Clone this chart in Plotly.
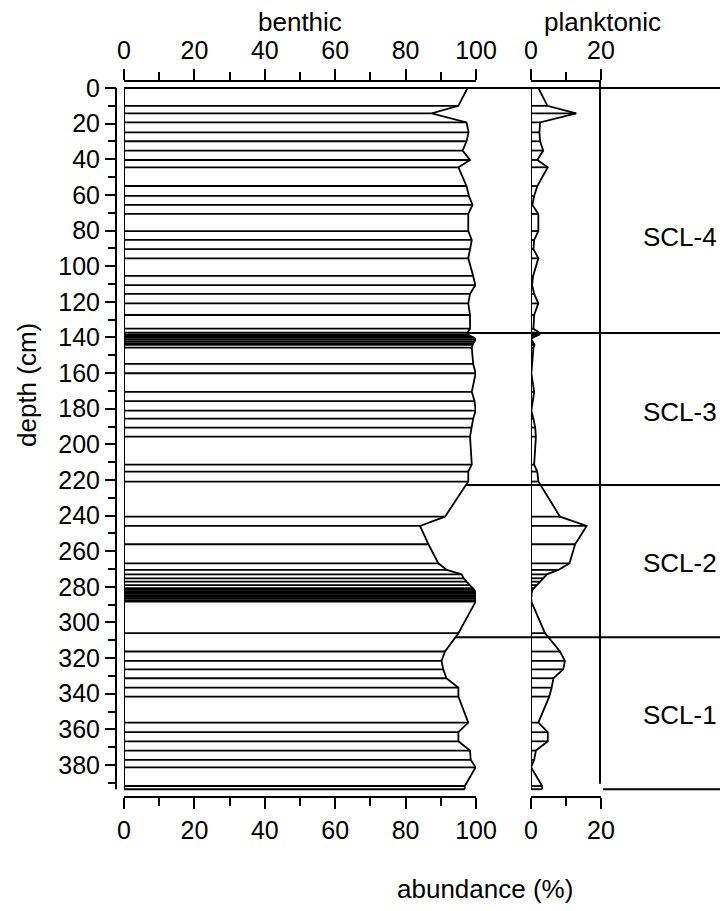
import plotly.graph_objects as go

# sample depths (cm) and relative abundances (%)
depth = [0, 10, 14.2, 19.3, 24.9, 29.9, 35.1, 40.4, 44.5, 55, 60.6, 65.6, 70.7,
         80.3, 85.3, 90.4, 95.6, 105.5, 110.6, 115.6, 120.9, 127.4, 135.1,
         137.3, 138.3, 139.2, 140.2, 141.2, 142.2, 143.2, 144.2, 145.7,
         154.9, 160.1, 170.6, 175.8, 181.1, 185.6, 190.6, 195.7, 211.4, 215.3,
         220.9, 240.6, 245.8, 256.1, 266.8, 270.5, 273, 275.2, 277.1, 279,
         280.8, 281.6, 282.4, 283.2, 284, 284.8, 285.6, 286.4, 287.4, 288.3,
         306, 316.3, 321.6, 326.3, 331.3, 336.6, 341.6, 356.2, 361.6, 366.7,
         371.9, 377.1, 381.3, 391.8, 393.6]

benthic = [97.6, 95, 87.4, 97.3, 97.9, 97.3, 96.2, 98.3, 95, 97.3, 98, 99, 97.8,
           97.8, 98.8, 98.3, 97.8, 99.2, 99.8, 98.3, 97.8, 98.3, 98.3,
           97.6, 97.6, 98.5, 99.5, 99.9, 99.6, 99.2, 99, 98.8,
           99.2, 99.9, 98.8, 99.6, 99.9, 99.2, 98.8, 98.3, 98.8, 97.8,
           97.8, 91.2, 84.1, 86.5, 89.3, 91.7, 95.9, 96.5, 97.3, 98.3,
           99.2, 99.5, 99.7, 99.8, 99.9, 99.8, 99.9, 100, 99.9, 99.9,
           95, 91.2, 90.2, 90.7, 91.6, 95, 95, 97.8, 95, 95,
           98.3, 98.5, 99.9, 96.8, 96.8]

planktonic = [2.1, 4.7, 12.9, 2.6, 2.4, 2.6, 3.5, 1.8, 4.8, 1.8, 0.9, 0.4, 2.1,
              2.1, 0.9, 0.7, 2.1, 0.6, 0.3, 0.9, 2.1, 0.9, 0.7,
              2.4, 2.4, 1.5, 0.5, 0.1, 0.4, 0.8, 1.0, 0.7,
              0.4, 0.1, 0.9, 0.4, 0.1, 0.7, 1.2, 1.4, 0.9, 1.8,
              2.1, 8.3, 15.9, 12.6, 11, 7.8, 4.5, 3.5, 2.5, 1.7,
              0.8, 0.5, 0.3, 0.2, 0.1, 0.2, 0.1, 0, 0.1, 0.1,
              4.0, 8.3, 9.7, 9.2, 6.4, 5.9, 5.2, 2.1, 4.8, 4.8,
              1.4, 0.9, 0, 3.2, 3.2]

zone_bounds = [0, 137.5, 222.8, 308.3]
zone_names = ["SCL-4", "SCL-3", "SCL-2", "SCL-1"]
zone_label_depth = [83.6, 181.9, 266.6, 352]

FONT = "Liberation Sans, Arial, sans-serif"
# page body has an 8px margin, so the figure is 16px smaller than the window
OFF = 8
W, H = 712, 895
L, T = 116 - OFF, 82 - OFF
B = H - (796 - OFF)
R = 0
PW, PH = W - L - R, H - T - B


def px_x(p):
    return (p - OFF - L) / PW


def px_y(p):
    return (H - B - (p - OFF)) / PH


def bars(vals):
    xs, ys = [], []
    for d, v in zip(depth, vals):
        xs += [0, v, None]
        ys += [d, d, None]
    return xs, ys


fig = go.Figure()

# white fill behind the benthic curve hides the zone lines
fig.add_trace(go.Scatter(
    x=[0] + benthic + [0], y=[depth[0]] + depth + [depth[-1]],
    fill="toself", fillcolor="white", mode="lines",
    line=dict(width=0), xaxis="x", yaxis="y", hoverinfo="skip"))

for vals, xa in [(benthic, "x"), (planktonic, "x2")]:
    bx, by = bars(vals)
    fig.add_trace(go.Scatter(x=bx, y=by, mode="lines",
                             line=dict(color="black", width=1.8),
                             xaxis=xa, yaxis="y"))
    fig.add_trace(go.Scatter(x=vals, y=depth, mode="lines",
                             line=dict(color="black", width=1.8),
                             xaxis=xa, yaxis="y"))

shapes = []
for zb in zone_bounds:
    shapes.append(dict(type="line", xref="paper", yref="y", layer="below",
                       x0=px_x(124), x1=1, y0=zb, y1=zb,
                       line=dict(color="black", width=2)))
# bottom zone line right of the planktonic panel
shapes.append(dict(type="line", xref="paper", yref="y",
                   x0=px_x(603), x1=1, y0=depth[-1], y1=depth[-1],
                   line=dict(color="black", width=2)))
# right boundary of the planktonic panel
shapes.append(dict(type="line", xref="paper", yref="y",
                   x0=px_x(600), x1=px_x(600), y0=-3.4, y1=390.5,
                   line=dict(color="black", width=2)))
# depth axis line and zero lines
shapes.append(dict(type="line", xref="paper", yref="y",
                   x0=0, x1=0, y0=0, y1=depth[-1],
                   line=dict(color="black", width=2)))
for xa in ["x", "x2"]:
    shapes.append(dict(type="line", xref=xa, yref="y",
                       x0=0, x1=0, y0=0, y1=depth[-1],
                       line=dict(color="black", width=2)))

tick_font = dict(family=FONT, size=25, color="black")
minor = dict(dtick=10, ticklen=8, tickwidth=2, tickcolor="black", ticks="outside")
xcommon = dict(showline=True, linecolor="black", linewidth=2,
               ticks="outside", ticklen=11, tickwidth=2, tickcolor="black",
               showgrid=False, zeroline=False, tickfont=tick_font,
               anchor="y", minor=minor, automargin=False)

dom1 = [px_x(124), px_x(476)]
dom2 = [px_x(531), px_x(601)]

fig.update_layout(
    template="none",
    width=W, height=H, autosize=False,
    margin=dict(l=L, r=R, t=T, b=B, pad=0, autoexpand=False),
    paper_bgcolor="white", plot_bgcolor="white", showlegend=False,
    font=dict(family=FONT, size=25, color="black"),
    xaxis=dict(domain=dom1, range=[0, 100], dtick=20, **xcommon),
    xaxis3=dict(domain=dom1, range=[0, 100], dtick=20,
                overlaying="x", side="top", matches="x", **xcommon),
    xaxis2=dict(domain=dom2, range=[0, 20], dtick=20, **xcommon),
    xaxis4=dict(domain=dom2, range=[0, 20], dtick=20,
                overlaying="x2", side="top", matches="x2", **xcommon),
    yaxis=dict(domain=[0, 1], range=[397.4, -3.37], anchor="free", position=0,
               showline=False, showgrid=False, zeroline=False, automargin=False,
               tick0=0, dtick=20, ticks="outside", ticklen=11, tickwidth=2,
               tickcolor="black", tickfont=tick_font, minor=minor),
    shapes=shapes,
)

# empty traces so the top axes render
fig.add_trace(go.Scatter(x=[None], y=[None], xaxis="x3", yaxis="y"))
fig.add_trace(go.Scatter(x=[None], y=[None], xaxis="x4", yaxis="y"))

ann = [
    dict(text="benthic", x=px_x(300), y=px_y(22)),
    dict(text="planktonic", x=px_x(602), y=px_y(22)),
    dict(text="abundance (%)", x=px_x(485), y=px_y(889)),
    dict(text="depth (cm)", x=px_x(27), y=px_y(385), textangle=-90),
]
for a in ann:
    fig.add_annotation(xref="paper", yref="paper", showarrow=False,
                       xanchor="center", yanchor="middle",
                       font=dict(family=FONT, size=26, color="black"), **a)
for name, d in zip(zone_names, zone_label_depth):
    fig.add_annotation(text=name, xref="paper", yref="y", x=px_x(719), y=d,
                       showarrow=False, xanchor="right", yanchor="middle",
                       font=dict(family=FONT, size=26, color="black"))

fig.write_html("out.html")
